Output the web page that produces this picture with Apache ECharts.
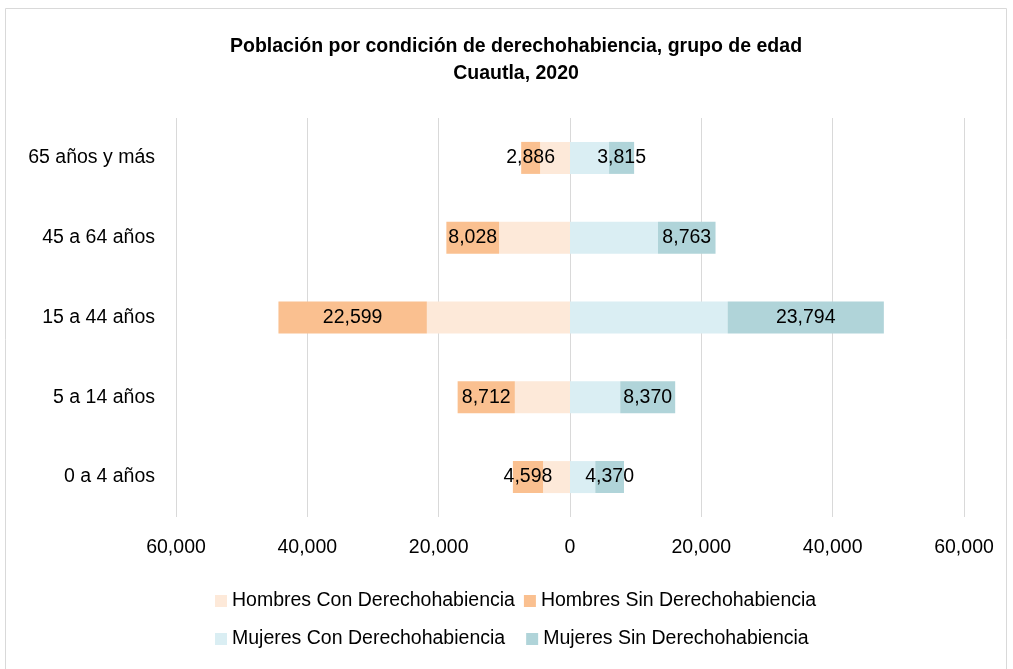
<!DOCTYPE html>
<html>
<head>
<meta charset="utf-8">
<script src="https://cdn.jsdelivr.net/npm/echarts@6/dist/echarts.min.js"></script>
<style>
  html, body { margin: 0; padding: 0; background: #fff; }
  #chart { width: 1013px; height: 669px; }
</style>
</head>
<body>
<div id="chart"></div>
<script>
// categories bottom to top
const ageGroups = ['0 a 4 años', '5 a 14 años', '15 a 44 años', '45 a 64 años', '65 años y más']

const hombresCon = [4100, 8400, 21800, 10800, 4550]
const hombresSin = [4598, 8712, 22599, 8028, 2886]
const mujeresCon = [3850, 7650, 24000, 13400, 5950]
const mujeresSin = [4370, 8370, 23794, 8763, 3815]

const xTicks = [-60000, -40000, -20000, 0, 20000, 40000, 60000]

const FONT = '"Liberation Sans", Arial, sans-serif'
const fmt = (v) => Math.abs(v).toLocaleString('en-US')

const labelStyle = {
  show: true,
  position: 'inside',
  color: '#000',
  fontFamily: FONT,
  fontSize: 19.5,
  formatter: (p) => fmt(p.value),
}

const chart = echarts.init(document.getElementById('chart'))

const barBase = {
  type: 'bar',
  stack: 'total',
  barWidth: 32,
}

const legendText = { fontFamily: FONT, fontSize: 19.5, color: '#000' }

chart.setOption({
  animation: false,
  textStyle: { fontFamily: FONT },
  title: {
    text: 'Población por condición de derechohabiencia, grupo de edad\nCuautla, 2020',
    left: 511,
    top: 28,
    textAlign: 'center',
    textStyle: {
      fontFamily: FONT,
      fontSize: 19.5,
      fontWeight: 'bold',
      color: '#000',
      lineHeight: 27,
    },
  },
  graphic: [{
    type: 'rect',
    shape: { x: 5.5, y: 8.5, width: 1001, height: 680 },
    style: { fill: 'none', stroke: '#d9d9d9', lineWidth: 1 },
    silent: true,
  }],
  legend: [
    {
      data: ['Hombres Con Derechohabiencia', 'Hombres Sin Derechohabiencia'],
      left: 215,
      top: 591,
      padding: 0,
      itemWidth: 12,
      itemHeight: 12,
      itemGap: 9,
      icon: 'rect',
      textStyle: legendText,
    },
    {
      data: ['Mujeres Con Derechohabiencia', 'Mujeres Sin Derechohabiencia'],
      left: 215,
      top: 629,
      padding: 0,
      itemWidth: 12,
      itemHeight: 12,
      itemGap: 21,
      icon: 'rect',
      textStyle: legendText,
    },
  ],
  grid: {
    left: 176,
    right: 49,
    top: 118,
    bottom: 152,
  },
  xAxis: {
    type: 'value',
    min: xTicks[0],
    max: xTicks[xTicks.length - 1],
    interval: 20000,
    axisLine: { show: false },
    axisTick: { show: false },
    splitLine: { lineStyle: { color: '#d9d9d9', width: 1 } },
    axisLabel: {
      margin: 21,
      fontFamily: FONT,
      fontSize: 19.5,
      color: '#000',
      formatter: (v) => fmt(v),
    },
  },
  yAxis: {
    type: 'category',
    data: ageGroups,
    axisLine: { show: false },
    axisTick: { show: false },
    splitLine: { show: false },
    axisLabel: {
      margin: 21,
      fontFamily: FONT,
      fontSize: 19.5,
      color: '#000',
    },
  },
  series: [
    {
      ...barBase,
      name: 'Hombres Con Derechohabiencia',
      itemStyle: { color: '#fde9d9' },
      data: hombresCon.map((v) => -v),
    },
    {
      ...barBase,
      name: 'Hombres Sin Derechohabiencia',
      itemStyle: { color: '#fac090' },
      label: labelStyle,
      data: hombresSin.map((v) => -v),
    },
    {
      ...barBase,
      name: 'Mujeres Con Derechohabiencia',
      itemStyle: { color: '#daeef3' },
      data: mujeresCon,
    },
    {
      ...barBase,
      name: 'Mujeres Sin Derechohabiencia',
      itemStyle: { color: '#b0d4d9' },
      label: labelStyle,
      data: mujeresSin,
    },
  ],
})
</script>
</body>
</html>
